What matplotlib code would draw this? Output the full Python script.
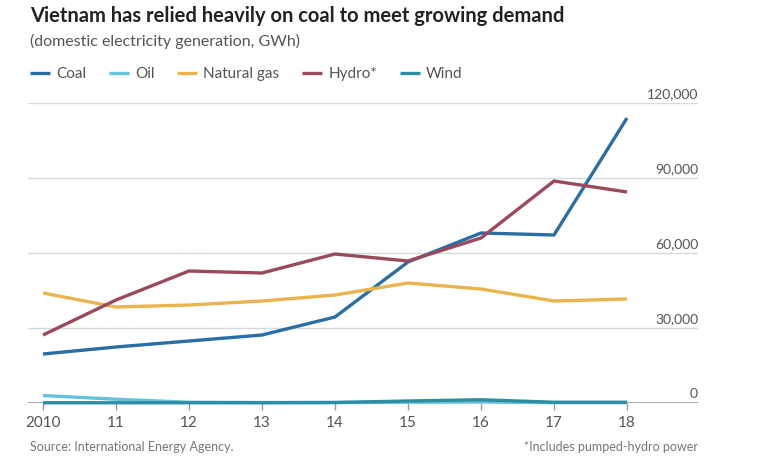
import matplotlib
matplotlib.use("Agg")
import matplotlib.pyplot as plt
import matplotlib.transforms as mtransforms

plt.rcParams['font.family'] = ['Lato', 'DejaVu Sans']

# podaci - GWh po godinama
godine = [2010, 2011, 2012, 2013, 2014, 2015, 2016, 2017, 2018]
oznake_godina = ["2010", "11", "12", "13", "14", "15", "16", "17", "18"]
coal = [19600, 22400, 24800, 27200, 34400, 56400, 68000, 67200, 114000]
oil = [3000, 1500, 300, 200, 200, 300, 400, 150, 150]
natural_gas = [44000, 38400, 39200, 40800, 43200, 48000, 45600, 40800, 41600]
hydro = [27200, 41200, 52800, 52000, 59600, 56800, 66000, 88800, 84400]
wind = [100, 100, 100, 100, 200, 800, 1300, 300, 300]
y_ticks = [0, 30000, 60000, 90000, 120000]

boje = {"Coal": "#2a6ea6", "Oil": "#62c3dc", "Natural gas": "#e9b44c",
        "Hydro*": "#9a4a5b", "Wind": "#2c8da5"}

fig = plt.figure(figsize=(7.68, 4.65), dpi=100)
ax = fig.add_axes([28/768, 1-403/465, (698-28)/768, 300/465])

ax.set_xlim(2010 - 15/73, 2018 + 71/73)
ax.set_ylim(0, 120000)

# mreza
for v in y_ticks[1:]:
    ax.axhline(v, color="#d3dbe1", lw=1.0, zorder=1)
ax.axhline(0, color="#9a9a9a", lw=1.2, zorder=1)

serije = [("Coal", coal), ("Oil", oil), ("Natural gas", natural_gas),
          ("Hydro*", hydro), ("Wind", wind)]
for ime, vrijednosti in serije:
    ax.plot(godine, vrijednosti, color=boje[ime], lw=2.4, label=ime,
            solid_capstyle="butt", clip_on=False, zorder=3)

for s in ax.spines.values():
    s.set_visible(False)
ax.set_yticks([])
ax.set_xticks(godine)
ax.set_xticklabels(oznake_godina, fontsize=11, color="#555555")
ax.tick_params(axis="x", length=5, width=1, color="#9a9a9a", pad=4)

trans = mtransforms.blended_transform_factory(ax.transAxes, ax.transData)
for v in y_ticks:
    ax.text(1.0, v + 1200, f"{v:,}", transform=trans, ha="right", va="bottom",
            fontsize=10, color="#555555")

leg = fig.legend(loc="upper left", bbox_to_anchor=(30/768, 1-67/465), ncol=5,
                 frameon=False, fontsize=11, handlelength=1.3, borderpad=0,
                 borderaxespad=0, columnspacing=1.5, handletextpad=0.4)
for t in leg.get_texts():
    t.set_color("#555555")

fig.text(30/768, 1-16/465, "Vietnam has relied heavily on coal to meet growing demand",
         fontsize=14.5, fontweight="bold", color="#222222", va="center")
fig.text(30/768, 1-41/465, "(domestic electricity generation, GWh)",
         fontsize=11.5, color="#555555", va="center")
fig.text(30/768, 1-447/465, "Source: International Energy Agency.",
         fontsize=9, color="#777777", va="center")
fig.text(698/768, 1-447/465, "*Includes pumped-hydro power",
         fontsize=9, color="#777777", va="center", ha="right")

fig.savefig("out.png", dpi=100, facecolor="white")
